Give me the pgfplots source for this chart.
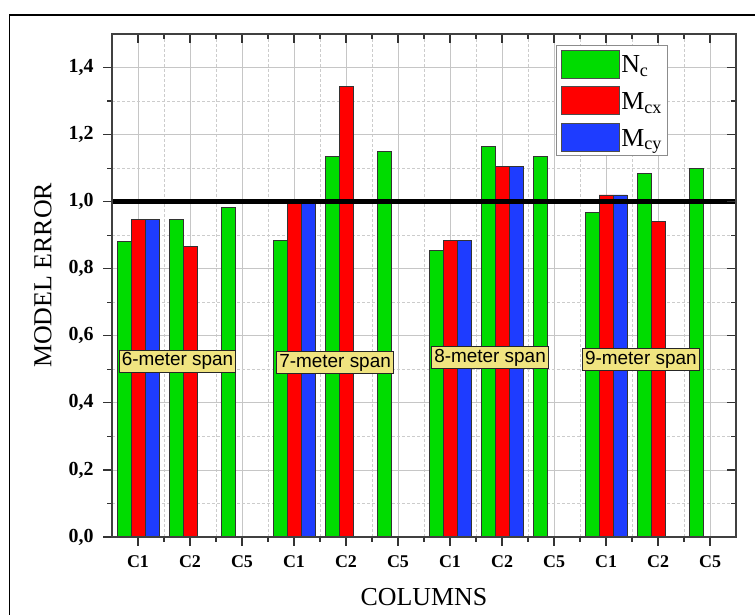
\documentclass[border=0pt]{standalone}
\usepackage{fontspec}
\setmainfont{Liberation Serif}
\newfontfamily\sansf{Liberation Sans}
\usepackage{pgfplots}
\pgfplotsset{compat=1.18}
\definecolor{cgreen}{RGB}{0,220,0}
\definecolor{cred}{RGB}{255,0,0}
\definecolor{cblue}{RGB}{30,60,255}
\definecolor{cbox}{RGB}{240,228,128}
\pgfplotsset{
  mylegimg/.style={legend image code/.code={\draw[##1, line width=0.8bp, draw=black!70] (0bp,-5.4bp) rectangle (58bp,22.6bp);}},
}
\tikzset{
  spanbox/.style={fill=cbox, draw=black!85, line width=0.8bp, inner xsep=2.5bp, inner ysep=2bp, text height=14bp, text depth=4bp, font=\sansf\fontsize{19}{21}\selectfont},
}
\begin{document}
\begin{tikzpicture}[x=1bp,y=1bp]
\useasboundingbox (0,0) rectangle (755,615);
\draw[line width=1.6bp] (9.5,-20) rectangle (780,600);
\begin{axis}[
  at={(112bp,78bp)}, anchor=south west,
  scale only axis, width=624bp, height=503bp,
  xmin=0.5, xmax=12.5, ymin=0, ymax=1.5,
  ybar=0pt, bar width=14bp,
  xtick={1,2,3,4,5,6,7,8,9,10,11,12},
  xticklabels={C1,C2,C5,C1,C2,C5,C1,C2,C5,C1,C2,C5},
  minor x tick num=1,
  ytick={0,0.2,0.4,0.6,0.8,1.0,1.2,1.4},
  minor y tick num=1,
  xtick pos=left, ytick pos=left,
  tick align=outside,
  major tick length=9bp, minor tick length=5bp,
  every tick/.style={black!80, line width=1.2bp},
  axis line style={black!75, line width=2bp},
  grid=both,
  major grid style={gray!45, line width=0.8bp},
  minor grid style={gray!40, dash pattern=on 2.5bp off 2.5bp, line width=0.7bp},
  yticklabel style={font=\fontsize{20}{24}\selectfont\bfseries, xshift=-6bp,
    /pgf/number format/use comma, /pgf/number format/fixed,
    /pgf/number format/fixed zerofill, /pgf/number format/precision=1,
    /pgf/number format/assume math mode=true},
  xticklabel style={font=\fontsize{18}{22}\selectfont\bfseries, yshift=-6bp},
  xlabel={COLUMNS},
  ylabel={MODEL ERROR},
  xlabel style={at={(axis description cs:0.5,-0.119)}, anchor=center, font=\fontsize{26}{28}\selectfont},
  ylabel style={at={(axis description cs:-0.1106,0.52)}, anchor=center, font=\fontsize{26}{28}\selectfont},
  legend style={at={(0.7115,0.978)}, anchor=north west, draw=black!45, line width=1bp, fill=white,
    font=\fontsize{26}{28}\selectfont, row sep=8bp, inner xsep=5bp, inner ysep=4bp,
    nodes={inner sep=1bp, anchor=base west}},
  legend cell align=left,
]
\addplot[fill=cgreen, draw=black!80, line width=0.8bp, mylegimg] coordinates {
 (1,0.880) (2,0.948) (3,0.983) (4,0.884) (5,1.134) (6,1.149)
 (7,0.854) (8,1.165) (9,1.136) (10,0.967) (11,1.085) (12,1.098)};
\addlegendentry{N\textsubscript{c}}
\addplot[fill=cred, draw=black!80, line width=0.8bp, mylegimg] coordinates {
 (1,0.948) (2,0.866) (4,1.005) (5,1.343) (7,0.883) (8,1.105) (10,1.020) (11,0.940)};
\addlegendentry{M\textsubscript{cx}}
\addplot[fill=cblue, draw=black!80, line width=0.8bp, mylegimg] coordinates {
 (1,0.948) (4,1.005) (7,0.883) (8,1.105) (10,1.020)};
\addlegendentry{M\textsubscript{cy}}
\draw[black, line width=4.5bp] (axis cs:0.5,1) -- (axis cs:12.5,1);
\node[spanbox] at (axis cs:1.76,0.525) {6-meter span};
\node[spanbox] at (axis cs:4.79,0.52) {7-meter span};
\node[spanbox] at (axis cs:7.77,0.535) {8-meter span};
\node[spanbox] at (axis cs:10.67,0.53) {9-meter span};
\end{axis}
\begin{axis}[
  at={(112bp,78bp)}, anchor=south west,
  scale only axis, width=624bp, height=503bp,
  xmin=0.5, xmax=12.5, ymin=0, ymax=1.5,
  xtick={1,2,3,4,5,6,7,8,9,10,11,12},
  minor x tick num=1,
  ytick={0,0.2,0.4,0.6,0.8,1.0,1.2,1.4},
  minor y tick num=1,
  xtick pos=right, ytick pos=right,
  tick align=inside,
  major tick length=9bp, minor tick length=5bp,
  every tick/.style={black!80, line width=1.2bp},
  axis line style={black!75, line width=2bp},
  xticklabels={}, yticklabels={},
]
\end{axis}
\end{tikzpicture}
\end{document}
